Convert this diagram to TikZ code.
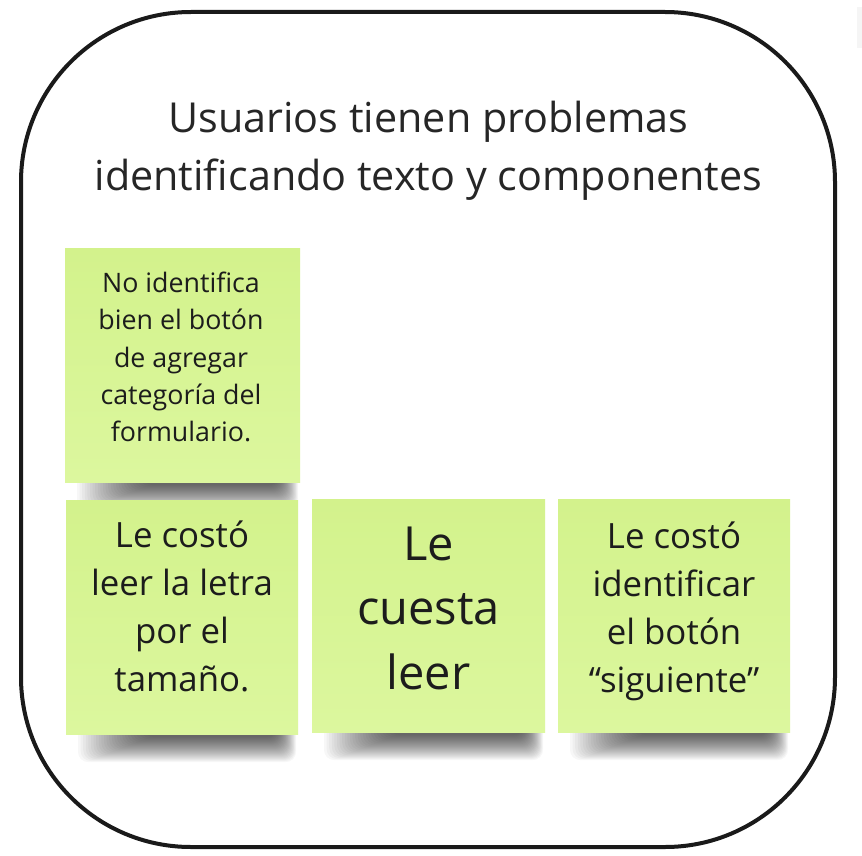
\documentclass[tikz,border=0pt]{standalone}
\usepackage{fontspec}
\setmainfont{Open Sans}
\definecolor{noteTop}{RGB}{211,242,140}
\definecolor{noteBot}{RGB}{220,247,158}
\definecolor{ink}{RGB}{28,28,28}
\definecolor{frameink}{RGB}{26,26,26}
\definecolor{titleink}{RGB}{38,38,38}
\newcommand\noteshadow[3]{%
  \foreach \i in {0,...,25}{%
    \fill[black, opacity=0.03, rounded corners=10pt]
      ({#1+12+2.6*\i},{#3-12}) rectangle ({#2-2-0.75*\i},{#3+28-1.0*\i});
  }%
}
\tikzset{
  frame/.style={draw=frameink, line width=4pt, rounded corners=170pt},
  note/.style={top color=noteTop, bottom color=noteBot, draw=none, inner sep=0pt},
  notetext/.style={text=ink, align=center, inner sep=0pt},
  titletext/.style={text=titleink, align=center, inner sep=0pt,
    font={\fontsize{41.3}{58}\selectfont}},
}
\begin{document}
\begin{tikzpicture}[x=1pt,y=-1pt]
\useasboundingbox (0,0) rectangle (862,856);
\fill[white] (0,0) rectangle (862,856);
\fill[black!4] (857,7) rectangle (862,48);
% frame
\draw[frame] (21,12) rectangle (835,847);
% title
\node[titletext] (title) at (428.5,150.5) {Usuarios tienen problemas\\identificando texto y componentes};
% shadows
\noteshadow{65}{300}{482}
\noteshadow{66}{298}{734}
\noteshadow{312}{545}{732}
\noteshadow{558}{790}{732}
% notes
\node[note, minimum width=235pt, minimum height=234pt] (n1) at (182.5,365) {};
\node[note, minimum width=232pt, minimum height=234pt] (nA) at (182,617) {};
\node[note, minimum width=233pt, minimum height=233pt] (nB) at (428.5,615.5) {};
\node[note, minimum width=232pt, minimum height=233pt] (nC) at (674,615.5) {};
% note texts
\node[notetext, font={\fontsize{26.8}{37.3}\selectfont}] (t1) at (181,357)
  {No identifica\\bien el botón\\de agregar\\categoría del\\formulario.};
\node[notetext, font={\fontsize{34.8}{48}\selectfont}] (tA) at (182,606.7)
  {Le costó\\leer la letra\\por el\\tamaño.};
\node[notetext, font={\fontsize{47}{64.5}\selectfont}] (tB) at (428.5,608.4)
  {Le\\cuesta\\leer};
\node[notetext, font={\fontsize{34.8}{48}\selectfont}] (tC) at (674,611.5)
  {Le costó\\identificar\\el botón\\“siguiente”};
\end{tikzpicture}
\end{document}
